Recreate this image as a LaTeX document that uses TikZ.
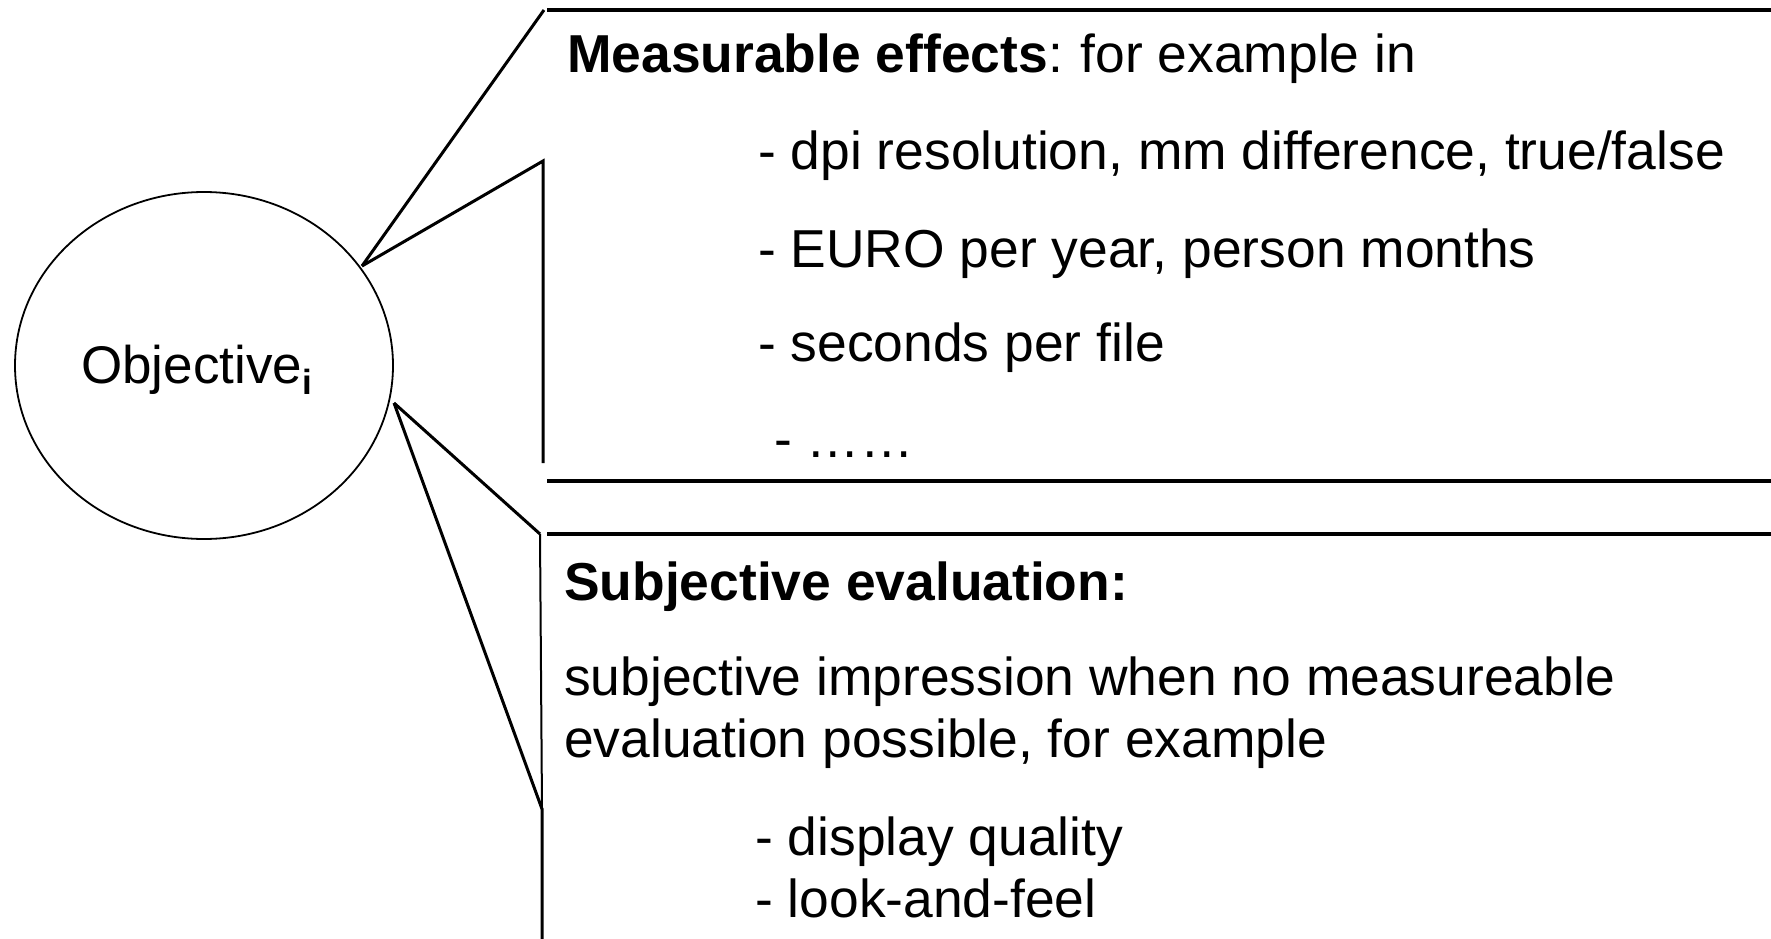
\documentclass[tikz,border=0pt]{standalone}
\usepackage{fontspec}
\setmainfont{Liberation Sans}
\usetikzlibrary{shapes.geometric}
\tikzset{
  conn/.style={line width=3pt, line cap=butt},
  thinv/.style={line width=2pt},
  hline/.style={line width=4pt},
  txt/.style={anchor=base west, inner sep=0pt, font=\fontsize{53.4}{60}\selectfont},
  objnode/.style={ellipse, draw, line width=1.8pt, minimum width=378pt, minimum height=347pt, inner sep=0pt}
}
\begin{document}
\begin{tikzpicture}[x=1pt,y=-1pt]
\useasboundingbox (0,0) rectangle (1771,939);
% objective ellipse
\node[objnode] (obj) at (204,365.5) {};
\node[txt, font=\fontsize{53}{60}\selectfont] (objtxt) at (81,383) {Objective};
\node[anchor=base west, inner sep=0pt, font=\fontsize{35}{40}\selectfont\bfseries] (objsub) at (objtxt.base east) [yshift=-11pt] {i};
% connector points
\coordinate (p1) at (362,266);
\coordinate (p2) at (394,403);
\coordinate (t1) at (544,10);
\coordinate (t2) at (543,161);
\coordinate (t3) at (543,463);
\coordinate (b1) at (540,534);
\coordinate (b2) at (542,809);
\coordinate (b3) at (542,939);
\coordinate (h1l) at (547,10);   \coordinate (h1r) at (1771,10);
\coordinate (h2l) at (547,481);  \coordinate (h2r) at (1771,481);
\coordinate (h3l) at (547,534);  \coordinate (h3r) at (1771,534);
% upper callout
\draw[conn] (p1) -- (t1);
\draw[conn] (p1) -- (t2) -- (t3);
\draw[hline] (h1l) -- (h1r);
\draw[hline] (h2l) -- (h2r);
% lower callout
\draw[conn] (p2) -- (b1);
\draw[thinv] (b1) -- (b2);
\draw[conn] (p2) -- (b2) -- (b3);
\draw[hline] (h3l) -- (h3r);
% texts upper
\node[txt] (m0) at (567,73) {\textbf{Measurable effects}:\hspace{-2pt} for example in};
\node[txt] (m1) at (758,169) {- dpi resolution, mm difference, true/false};
\node[txt] (m2) at (758,267) {- EURO per year, person months};
\node[txt] (m3) at (758,361) {- seconds per file};
\node[txt] (m4) at (774,457) {- ……};
% texts lower
\node[txt] (s0) at (564,600) {\textbf{Subjective evaluation:}};
\node[txt] (s1) at (564,695) {subjective impression when no measureable};
\node[txt] (s2) at (564,757) {evaluation possible, for example};
\node[txt] (s3) at (755,855) {- display quality};
\node[txt] (s4) at (755,917) {- look-and-feel};
\end{tikzpicture}
\end{document}
